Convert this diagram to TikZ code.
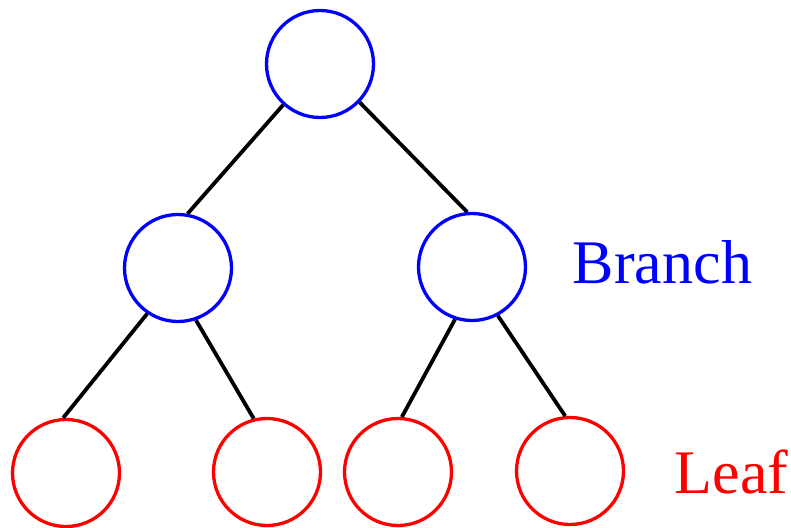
\documentclass[tikz,border=0pt]{standalone}
\usepackage{fontspec}
\setmainfont{Liberation Serif}
\begin{document}
\begin{tikzpicture}[x=1pt,y=-1pt,
  vert/.style={circle,draw,line width=3.3pt,minimum size=107pt,inner sep=0pt,fill=white},
  branchnode/.style={vert,draw=blue},
  leafnode/.style={vert,draw=red},
  edge/.style={line width=3.8pt,black},
  tag/.style={anchor=base,inner sep=0pt,font=\fontsize{62}{70}\selectfont}]
  \useasboundingbox (0,0) rectangle (791,527);

  % tree nodes
  \node[branchnode] (root) at (320,64) {};
  \node[branchnode] (bl) at (178,268) {};
  \node[branchnode] (br) at (472,267) {};
  \node[leafnode] (l1) at (66,473) {};
  \node[leafnode] (l2) at (267,472) {};
  \node[leafnode] (l3) at (398,472) {};
  \node[leafnode] (l4) at (570,471) {};

  % connectors between node borders
  \draw[edge] (root.228) -- (bl.80);
  \draw[edge] (root.316) -- (br.95);
  \draw[edge] (bl.236) -- (l1.93);
  \draw[edge] (bl.289) -- (l2.104);
  \draw[edge] (br.252) -- (l3.86);
  \draw[edge] (br.298) -- (l4.95);

  % level labels
  \node[tag,text=blue] (branchlabel) at (662.5,283) {Branch};
  \node[tag,text=red] (leaflabel) at (731.5,493) {Leaf};
\end{tikzpicture}
\end{document}
